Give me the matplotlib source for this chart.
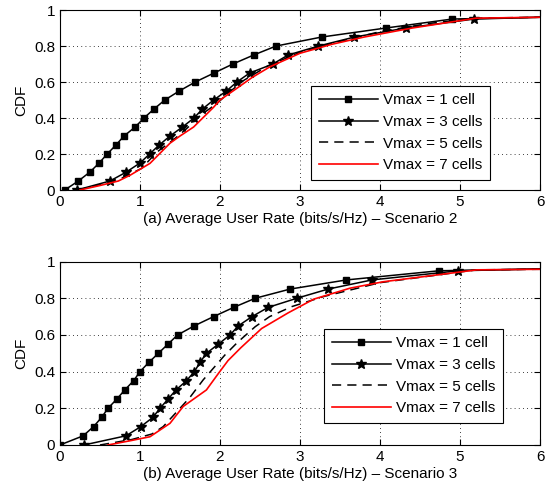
import matplotlib
matplotlib.use("Agg")
from matplotlib import pyplot as plt

plt.rcParams['font.family'] = ['Liberation Sans', 'DejaVu Sans']
plt.rcParams['font.size'] = 10

labels = ['Vmax = 1 cell', 'Vmax = 3 cells', 'Vmax = 5 cells', 'Vmax = 7 cells']

# scenario 2
a_v1_x = [0.06, 0.23, 0.375, 0.49, 0.59, 0.70, 0.80, 0.94, 1.05, 1.175, 1.31, 1.49, 1.69, 1.925, 2.16, 2.42, 2.70, 3.27, 4.07, 4.90, 6.0]
a_v1_y = [0, 0.05, 0.10, 0.15, 0.20, 0.25, 0.30, 0.35, 0.40, 0.45, 0.50, 0.55, 0.60, 0.65, 0.70, 0.75, 0.80, 0.85, 0.90, 0.95, 0.96]
a_v3_x = [0.21, 0.625, 0.83, 1.0, 1.12, 1.24, 1.375, 1.53, 1.675, 1.78, 1.92, 2.08, 2.21, 2.37, 2.66, 2.85, 3.23, 3.68, 4.32, 5.175, 6.0]
a_v3_y = [0, 0.05, 0.10, 0.15, 0.20, 0.25, 0.30, 0.35, 0.40, 0.45, 0.50, 0.55, 0.60, 0.65, 0.70, 0.75, 0.80, 0.85, 0.90, 0.95, 0.96]
a_v5_x = [0.22, 0.70, 1.02, 1.21, 1.42, 1.58, 1.77, 1.96, 2.12, 2.30, 2.60, 3.0, 3.4, 4.0, 4.6, 5.2, 6.0]
a_v5_y = [0, 0.05, 0.12, 0.21, 0.28, 0.34, 0.42, 0.48, 0.545, 0.61, 0.69, 0.765, 0.815, 0.88, 0.925, 0.955, 0.96]
a_v7_x = [0.25, 0.5, 0.73, 0.88, 1.125, 1.375, 1.5, 1.67, 1.92, 2.0, 2.21, 2.4, 2.625, 3.0, 3.4, 3.8, 4.4, 5.2, 6.0]
a_v7_y = [0, 0.025, 0.05, 0.083, 0.148, 0.26, 0.30, 0.35, 0.46, 0.50, 0.565, 0.625, 0.685, 0.76, 0.81, 0.85, 0.90, 0.955, 0.96]

# scenario 3
b_v1_x = [0, 0.29, 0.42, 0.52, 0.60, 0.71, 0.81, 0.92, 1.0, 1.11, 1.23, 1.35, 1.47, 1.68, 1.92, 2.17, 2.44, 2.875, 3.58, 4.74, 6.0]
b_v1_y = [0, 0.05, 0.10, 0.15, 0.20, 0.25, 0.30, 0.35, 0.40, 0.45, 0.50, 0.55, 0.60, 0.65, 0.70, 0.75, 0.80, 0.85, 0.90, 0.95, 0.96]
b_v3_x = [0.30, 0.825, 1.01, 1.16, 1.25, 1.35, 1.45, 1.58, 1.68, 1.75, 1.83, 1.98, 2.125, 2.23, 2.40, 2.60, 2.96, 3.35, 3.90, 4.98, 6.0]
b_v3_y = [0, 0.05, 0.10, 0.15, 0.20, 0.25, 0.30, 0.35, 0.40, 0.45, 0.50, 0.55, 0.60, 0.65, 0.70, 0.75, 0.80, 0.85, 0.90, 0.95, 0.96]
b_v5_x = [0.5, 0.9, 1.15, 1.29, 1.5, 1.625, 1.79, 1.94, 2.06, 2.22, 2.44, 2.62, 2.9, 3.3, 4.0, 5.2, 6.0]
b_v5_y = [0, 0.03, 0.06, 0.10, 0.20, 0.26, 0.355, 0.43, 0.49, 0.56, 0.645, 0.70, 0.755, 0.81, 0.885, 0.955, 0.958]
b_v7_x = [0.6, 0.9, 1.125, 1.375, 1.54, 1.83, 1.98, 2.1, 2.26, 2.52, 2.85, 3.17, 3.625, 4.04, 5.21, 6.0]
b_v7_y = [0, 0.025, 0.045, 0.118, 0.21, 0.30, 0.39, 0.46, 0.53, 0.635, 0.72, 0.795, 0.855, 0.89, 0.955, 0.958]


def drawPanel(ax, s1, s3, s5, s7, title, legendPos):
    n1 = len(s1[0])
    n3 = len(s3[0])
    ax.plot(s1[0], s1[1], 'k-', marker='s', ms=5, lw=1.1, markevery=list(range(n1 - 1)), label=labels[0])
    ax.plot(s3[0], s3[1], 'k-', marker='*', ms=7, mew=1.0, lw=1.1, markevery=list(range(n3 - 1)), label=labels[1])
    ax.plot(s5[0], s5[1], 'k--', dashes=(6, 4), lw=1.1, label=labels[2])
    ax.plot(s7[0], s7[1], color='red', lw=1.2, label=labels[3])
    ax.set_xlim(0, 6)
    ax.set_ylim(0, 1)
    ax.set_xticks(range(7))
    ax.set_yticks([0, 0.2, 0.4, 0.6, 0.8, 1])
    ax.set_yticklabels(['0', '0.2', '0.4', '0.6', '0.8', '1'])
    ax.tick_params(direction='in', top=True, right=True, labelsize=11, length=4)
    ax.grid(True, color='k', linestyle=(0, (1, 4)), lw=0.6)
    ax.set_ylabel('CDF', fontsize=11)
    ax.set_xlabel(title, fontsize=11, labelpad=2)
    leg = ax.legend(loc='lower left', bbox_to_anchor=legendPos, fontsize=11, fancybox=False,
                    edgecolor='k', framealpha=1, handlelength=3.9, labelspacing=0.5,
                    borderpad=0.5, handletextpad=0.3, borderaxespad=0)
    leg.get_frame().set_linewidth(0.8)


fig = plt.figure(figsize=(5.45, 4.93), dpi=100)
ax1 = fig.add_axes([0.110, 0.6146, 0.881, 0.365])
ax2 = fig.add_axes([0.110, 0.0974, 0.881, 0.372])

drawPanel(ax1, (a_v1_x, a_v1_y), (a_v3_x, a_v3_y), (a_v5_x, a_v5_y), (a_v7_x, a_v7_y),
          '(a) Average User Rate (bits/s/Hz) \u2013 Scenario 2', (0.523, 0.056))
drawPanel(ax2, (b_v1_x, b_v1_y), (b_v3_x, b_v3_y), (b_v5_x, b_v5_y), (b_v7_x, b_v7_y),
          '(b) Average User Rate (bits/s/Hz) \u2013 Scenario 3', (0.55, 0.12))

fig.savefig('out.png', dpi=100)
